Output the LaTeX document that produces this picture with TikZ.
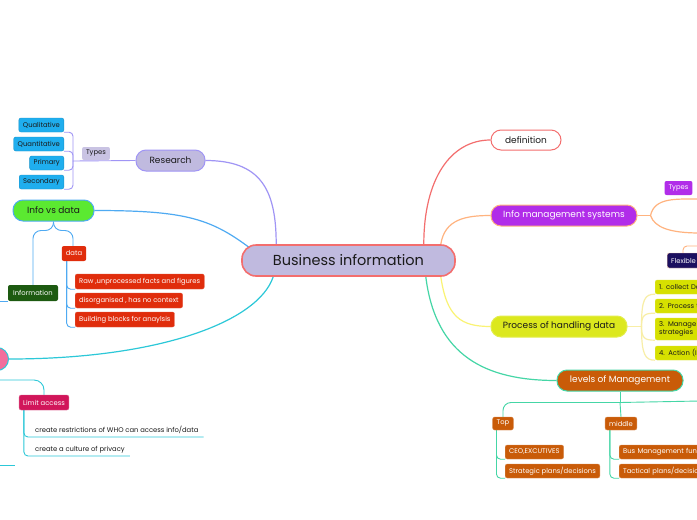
\documentclass[tikz,border=0pt]{standalone}
\usepackage{fontspec}
\setmainfont{Poppins}
\usetikzlibrary{calc,backgrounds}
\definecolor{lav}{HTML}{C0BADF}
\definecolor{cred}{HTML}{F36E6E}
\definecolor{cpurp}{HTML}{A095F5}
\definecolor{typesg}{HTML}{C9C3E3}
\definecolor{cblue}{HTML}{1FAEEE}
\definecolor{lblue}{HTML}{4FAAF2}
\definecolor{cgreen}{HTML}{5BE931}
\definecolor{dred}{HTML}{E02D0C}
\definecolor{dgreen}{HTML}{1D5A11}
\definecolor{cteal}{HTML}{2CC8D8}
\definecolor{cpink}{HTML}{F26E9C}
\definecolor{crims}{HTML}{D1165A}
\definecolor{cviol}{HTML}{B12DE9}
\definecolor{corange}{HTML}{FFB37F}
\definecolor{cnavy}{HTML}{1B1060}
\definecolor{cyel}{HTML}{DCE81E}
\definecolor{cyel2}{HTML}{D6E000}
\definecolor{lyel}{HTML}{F8EEA6}
\definecolor{cbrown}{HTML}{C95B08}
\definecolor{cmint}{HTML}{45D6A6}
\definecolor{txt}{HTML}{1A1A1A}
\tikzset{
  conn/.style={line width=1.2pt},
  subl/.style={line width=0.9pt, rounded corners=4pt},
  box/.style={rectangle, rounded corners=2pt, inner sep=0pt, inner xsep=4pt, minimum height=14pt, font=\fontsize{6.8}{7.8}\selectfont},
  topic/.style={rectangle, rounded corners=10pt, inner sep=0pt, line width=1pt, minimum height=21pt, font=\fontsize{9}{11}\selectfont},
  redbox/.style={box, fill=dred, draw=dred!80!white, line width=0.4pt, text=white, minimum height=15pt, anchor=west},
  bluebox/.style={box, fill=cblue, draw=cblue!85!black, line width=0.4pt, text=txt, anchor=east},
  yelbox/.style={box, fill=cyel2, draw=cyel2!80!white, line width=0.4pt, text=txt, anchor=west, text width=90pt, align=left},
  brbox/.style={box, fill=cbrown, draw=cbrown!70!white, line width=0.4pt, text=white, anchor=west},
  plain/.style={inner sep=0pt, font=\fontsize{6.8}{7.8}\selectfont, text=txt, anchor=south west},
}
\begin{document}
\begin{tikzpicture}[x=1pt,y=-1pt]
\useasboundingbox (0,0) rectangle (697,520);

% central
\node[topic, fill=lav, draw=cred, line width=1.6pt, rounded corners=14pt, minimum width=213pt, minimum height=31pt, font=\fontsize{14.5}{18}\selectfont, text=txt] (central) at (348.5,260.5) {Business information};

% research branch
\node[topic, fill=lav, draw=cpurp, minimum width=69pt, text=txt] (research) at (170.5,160.5) {Research};
\node[box, fill=typesg, minimum width=26pt, minimum height=13pt, text=txt] (rtypes) at (96,153.5) {Types};
\node[bluebox] (qual) at (64,125) {Qualitative};
\node[bluebox] (quant) at (64,144) {Quantitative};
\node[bluebox] (prim) at (64,163) {Primary};
\node[bluebox] (second) at (64,182) {Secondary};
\coordinate (rj) at (73,161);

% info vs data
\node[topic, fill=cgreen, draw=lblue, minimum width=81pt, text=txt] (infovs) at (53.5,210.5) {Info vs data};
\node[box, fill=dred, text=white, minimum height=15pt, minimum width=24pt] (data) at (74,253.5) {data};
\node[box, fill=dgreen, text=white, minimum height=16pt, minimum width=50pt] (information) at (33,293) {Information};
\node[redbox] (raw) at (75,281.5) {Raw ,unprocessed facts and figures};
\node[redbox] (disorg) at (75,300.5) {disorganised , has no context};
\node[redbox] (building) at (75,319.5) {Building blocks for anaylsis};

% pink branch
\node[circle, fill=cpink, draw=cteal, line width=1pt, minimum size=23pt, inner sep=0pt] (pink) at (-3,359) {};
\node[box, fill=crims, draw=crims!70!white, line width=0.4pt, text=white, minimum height=15pt, minimum width=48pt] (limit) at (44,402.5) {Limit access};
\node[plain, inner xsep=5pt, inner ysep=3pt] (restr) at (30,437) {create restrictions of WHO can access info/data};
\node[plain, inner xsep=5pt, inner ysep=3pt] (cult) at (30,456) {create a culture of privacy};
\coordinate (pj) at (-6,380);
\coordinate (pk) at (-6,465);
\coordinate (pkE) at (15,465);

% definition
\node[topic, fill=white, draw=cred, minimum width=70pt, minimum height=20pt, text=txt] (definition) at (526,140) {definition};

% info management systems
\node[topic, fill=cviol, draw=corange, minimum width=146pt, text=white] (ims) at (564,215.5) {Info management systems};
\node[box, fill=cviol, text=white, minimum width=27pt, minimum height=14pt] (imtypes) at (678.5,188) {Types};
\node[box, fill=cnavy, draw=corange!60!white, line width=0.4pt, text=white, minimum height=15pt, anchor=west, text width=60pt, align=left] (flexible) at (667,260.5) {Flexible};
\coordinate (imsA) at (700,199);
\coordinate (imsB) at (700,233);
\coordinate (flexA) at (700,246);

% process of handling data
\node[topic, fill=cyel, draw=cyel!80!white, minimum width=136pt, text=txt] (process) at (559,326.5) {Process of handling data};
\node[yelbox] (p1) at (655,287) {1. collect Da};
\node[yelbox] (p2) at (655,306) {2. Process t};
\node[yelbox, minimum height=22pt, font=\fontsize{6.8}{7.6}\selectfont] (p3) at (655,329) {3. Manage i\\strategies};
\node[yelbox] (p4) at (655,353) {4. Action (In};

% levels of management
\node[topic, fill=cbrown, draw=cmint, minimum width=126pt, text=white] (levels) at (620,380.5) {levels of Management};
\node[box, fill=cbrown, draw=cbrown!70!white, line width=0.4pt, text=white, minimum width=20pt, minimum height=13pt] (top) at (503,423.5) {Top};
\node[box, fill=cbrown, draw=cbrown!70!white, line width=0.4pt, text=white, minimum width=30pt, minimum height=13pt] (middle) at (621,423.5) {middle};
\node[brbox] (ceo) at (505,452) {CEO,EXCUTIVES};
\node[brbox] (strat) at (505,471) {Strategic plans/decisions};
\node[brbox, text width=90pt, align=left] (bus) at (619,452) {Bus Management func};
\node[brbox, text width=90pt, align=left] (tact) at (619,471) {Tactical plans/decisio};
\coordinate (levR) at (700,401);

\begin{pgfonlayer}{background}
\fill[white] (0,0) rectangle (697,520);
% main connectors
\draw[conn, cpurp] ($(central.north west)+(35,0)$) .. controls +(0,-55) and +(55,0) .. (research.east);
\draw[conn, lblue] ($(central.north west)+(9,4)$) .. controls +(-40,-30) and +(90,0) .. (infovs.east);
\draw[conn, cteal] ($(central.south west)+(32,0)$) .. controls +(-15,45) and +(150,0) .. (pink.east);
\draw[conn, cred] ($(central.north east)+(-32,0)$) .. controls +(0,-65) and +(-40,0) .. (definition.west);
\draw[conn, corange] ($(central.north east)+(-15,0)$) .. controls +(4,-25) and +(-25,0) .. (ims.west);
\draw[conn, lyel!70!yellow] ($(central.south east)+(-15,0)$) .. controls +(6,40) and +(-30,0) .. (process.west);
\draw[conn, cmint] ($(central.south east)+(-30,0)$) .. controls +(10,80) and +(-70,0) .. (levels.west);

% research subtree
\draw[subl, cpurp] (research.west) -- (rj);
\draw[subl, cpurp] (rj) |- (qual.south east);
\draw[subl, cpurp] (rj) |- (quant.south east);
\draw[subl, cpurp] (rj) |- (prim.south east);
\draw[subl, cpurp] (rj) |- (second.south east);

% info vs data subtree
\draw[subl, lblue, rounded corners=8pt] (infovs.south) -- ++(0,9) -| (information.north);
\draw[subl, lblue, rounded corners=8pt] (infovs.south) -- ++(0,9) -| ($(data.north)+(-1,0)$);
\draw[subl, lblue] (information.south west) -- ++(-15,0);
\draw[subl, lblue] ($(data.south west)+(5,0)$) |- (raw.south west);
\draw[subl, lblue] ($(data.south west)+(5,0)$) |- (disorg.south west);
\draw[subl, lblue] ($(data.south west)+(5,0)$) |- (building.south west);

% pink subtree
\draw[subl, cteal, rounded corners=10pt] (pj) -| (limit.north);
\draw[line width=0.9pt, cteal] (pk) -- (pkE);
\draw[subl, cteal] ($(limit.south west)+(5,0)$) |- (restr.south east);
\draw[subl, cteal] ($(limit.south west)+(5,0)$) |- (cult.south east);

% ims subtree
\draw[conn, corange] (ims.east) -- ++(13,0) coordinate (imsJ);
\draw[conn, corange] (imsJ) .. controls +(4,-18) and +(-25,0) .. (imsA);
\draw[conn, corange] (imsJ) .. controls +(4,12) and +(-30,0) .. (imsB);
\draw[subl, corange] ($(flexible.north west)+(16,0)$) |- (flexA);

% process subtree
\draw[conn, lyel] (process.east) -- ++(14,0) coordinate (prJ);
\draw[conn, lyel] (prJ) .. controls +(0,-28) and +(-10,0) .. (p1.south west);
\draw[conn, lyel] (prJ) .. controls +(0,-12) and +(-10,0) .. (p2.south west);
\draw[conn, lyel] (prJ) .. controls +(0,12) and +(-10,0) .. (p3.south west);
\draw[conn, lyel] (prJ) .. controls +(0,28) and +(-10,0) .. (p4.south west);

% levels subtree
\draw[subl, cmint] (levels.south) -- ++(0,11) coordinate (levJ);
\draw[subl, cmint, rounded corners=8pt] (levJ) -| (top.north);
\draw[subl, cmint] (levJ) -- (levR);
\draw[subl, cmint] (levJ) -- (middle.north);
\draw[subl, cmint] ($(top.south west)+(4,0)$) |- (ceo.south west);
\draw[subl, cmint] ($(top.south west)+(4,0)$) |- (strat.south west);
\draw[subl, cmint] ($(middle.south west)+(5,0)$) |- (bus.south west);
\draw[subl, cmint] ($(middle.south west)+(5,0)$) |- (tact.south west);
\end{pgfonlayer}
\end{tikzpicture}
\end{document}
